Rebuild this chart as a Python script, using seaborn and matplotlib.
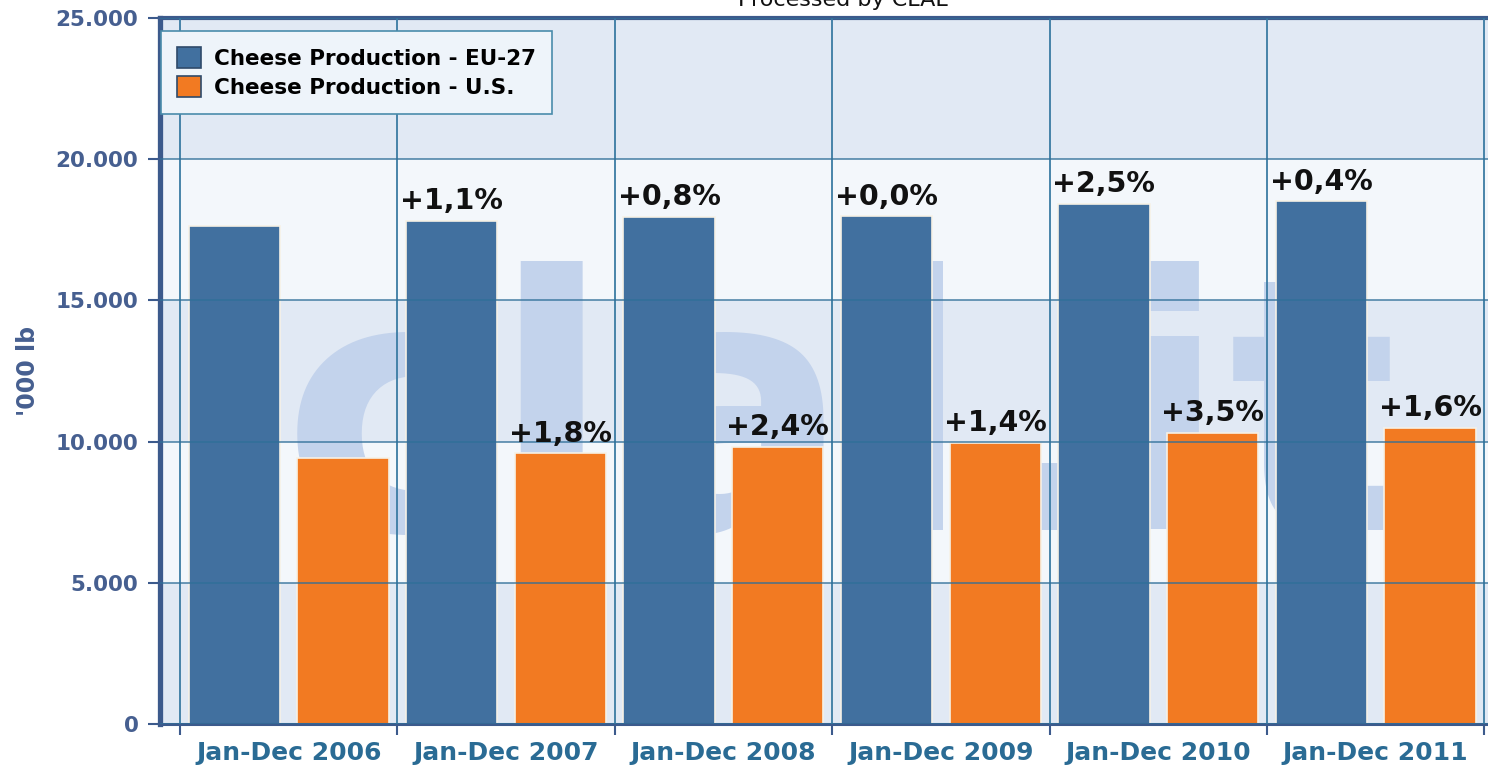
import numpy as np
import pandas as pd
import matplotlib.pyplot as plt
import matplotlib.patches as mpatches
import seaborn as sns

# values ('000 lb)
periods = ["Jan-Dec 2006", "Jan-Dec 2007", "Jan-Dec 2008",
           "Jan-Dec 2009", "Jan-Dec 2010", "Jan-Dec 2011"]
eu_values = [17630, 17820, 17970, 17980, 18430, 18510]
us_values = [9410, 9580, 9820, 9960, 10320, 10490]
eu_change = ["", "+1,1%", "+0,8%", "+0,0%", "+2,5%", "+0,4%"]
us_change = ["", "+1,8%", "+2,4%", "+1,4%", "+3,5%", "+1,6%"]
series = ["Cheese Production - EU-27", "Cheese Production - U.S."]
y_ticks = [0, 5000, 10000, 15000, 20000, 25000]

colors = ["#41709f", "#f27a22"]
axis_col = "#3c5a8c"

df = pd.DataFrame({
    "period": periods * 2,
    "value": eu_values + us_values,
    "series": [series[0]] * len(periods) + [series[1]] * len(periods),
})

sns.set_style("white")
plt.rcParams['font.family'] = ['DejaVu Sans']

fig = plt.figure(figsize=(14.88, 7.70), dpi=100)
ax = fig.add_axes([160 / 1488, 46 / 770, 1328 / 1488, 706 / 770])

# alternating background bands
for i in range(len(y_ticks) - 1):
    band = "#e1e9f4" if i % 2 == 0 else "#f3f7fb"
    ax.axhspan(y_ticks[i], y_ticks[i + 1], color=band, lw=0, zorder=0.1)

# watermark
ax.text(0.092, 0.275, "clal.it", transform=ax.transAxes, fontsize=255,
        fontweight="bold", color="#c3d3ec", ha="left", va="baseline", zorder=0.5)

sns.barplot(data=df, x="period", y="value", hue="series", palette=colors,
            saturation=1, width=1.0, gap=0.16, edgecolor="#f6f1e6", linewidth=1.2,
            legend=False, zorder=2, ax=ax)

# percentage changes above the bars
for cont, labels in zip(ax.containers, [eu_change, us_change]):
    ax.bar_label(cont, labels=labels, padding=4, fontsize=20.5,
                 fontweight="bold", color="#111111", zorder=4)

ax.set_xlim(-0.592, 5.517)
ax.set_ylim(0, 25000)
ax.set_yticks(y_ticks)
ax.set_yticklabels([f"{v:,}".replace(",", ".") for v in y_ticks])
ax.set_xticks(np.arange(len(periods)))
ax.set_xticklabels(periods)
ax.set_xticks(np.arange(-0.5, len(periods), 1), minor=True)

ax.tick_params(axis="x", which="major", bottom=True, length=0, pad=12,
               labelsize=18, labelcolor="#2a6b94")
ax.tick_params(axis="x", which="minor", bottom=True, length=8, width=1.5,
               color=axis_col, direction="out")
ax.tick_params(axis="y", which="major", left=True, length=8.5, width=1.5,
               color=axis_col, pad=7, labelsize=15.5, labelcolor="#465f90")
for lbl in ax.get_xticklabels() + ax.get_yticklabels():
    lbl.set_fontweight("bold")

# grid on top of the bars
ax.set_axisbelow(False)
ax.grid(axis="x", which="minor", color="#3a7ba3", lw=1.3)
ax.grid(axis="y", which="major", color="#2f6f98", alpha=0.75, lw=1.3)
ax.grid(axis="x", which="major", visible=False)

ax.spines["left"].set(color=axis_col, lw=3.8)
ax.spines["top"].set(color=axis_col, lw=3.0)
ax.spines["bottom"].set(color=axis_col, lw=2.2)
ax.spines["right"].set_visible(False)

ax.set_xlabel("")
ax.set_ylabel("'000 lb", fontsize=17, fontweight="bold", color="#465f90")
ax.yaxis.set_label_coords(-0.09, 0.5)

handles = [mpatches.Patch(facecolor=c, edgecolor="#2f4a6a", lw=1.2) for c in colors]
leg = ax.legend(handles, series, loc="upper left", bbox_to_anchor=(0.001, 0.982),
                borderaxespad=0, fancybox=False, framealpha=1, facecolor="#eef4fa",
                edgecolor="#4a8cab", prop={"weight": "bold", "size": 15.5},
                handlelength=1.1, handleheight=1.1, handletextpad=0.6,
                labelspacing=0.35, borderpad=0.75, labelcolor="black")
leg.get_frame().set_linewidth(1.2)
leg.set_zorder(5)

fig.text(843 / 1488, 1 - 6 / 770, "Processed by CLAL", ha="center", va="baseline",
         fontsize=16, color="#111111")

fig.savefig("out.png", dpi=100)
